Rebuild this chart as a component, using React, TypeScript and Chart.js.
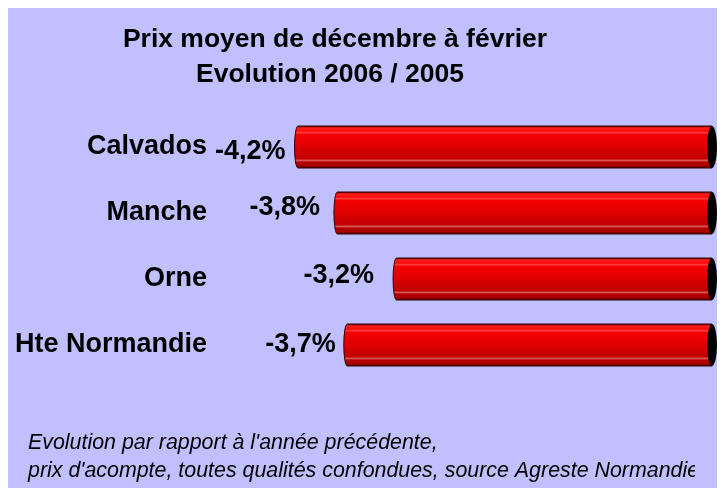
import React, { useEffect, useRef } from 'react';
import { Chart, registerables } from 'chart.js';

Chart.register(...registerables);

const categories = ['Calvados', 'Manche', 'Orne', 'Hte Normandie'];
const values = [-4.2, -3.8, -3.2, -3.7];
const valueLabels = ['-4,2%', '-3,8%', '-3,2%', '-3,7%'];
const titleLines = ['Prix moyen de décembre à février', 'Evolution 2006 / 2005'];
const footnoteLines = [
  "Evolution par rapport à l'année précédente,",
  "prix d'acompte, toutes qualités confondues, source Agreste Normandie",
];

// layout nudges for the value labels (gap left of bar, vertical shift)
const labelGap = [9, 14, 19, 8];
const labelDy = [5, -5, -3, 0];

const W = 717;
const H = 480;
const FONT = "Arial, 'Liberation Sans', sans-serif";

const cylinderPlugin = {
  id: 'cylinder',
  afterDatasetsDraw(chart: any) {
    const ctx: CanvasRenderingContext2D = chart.ctx;
    const meta = chart.getDatasetMeta(0);
    meta.data.forEach((el: any, i: number) => {
      const { x, y, base, height } = el.getProps(['x', 'y', 'base', 'height'], true);
      const left = Math.min(x, base);
      const right = Math.max(x, base);
      const h = height;
      const top = y - h / 2;
      const bot = y + h / 2;
      const rx = 3.5;
      const erx = 5;
      const g = ctx.createLinearGradient(0, top, 0, bot);
      g.addColorStop(0, '#700000');
      g.addColorStop(0.05, '#ff2020');
      g.addColorStop(0.12, '#ff0808');
      g.addColorStop(0.16, '#ff4040');
      g.addColorStop(0.2, '#f40000');
      g.addColorStop(0.45, '#e40000');
      g.addColorStop(0.6, '#d00000');
      g.addColorStop(0.78, '#c20000');
      g.addColorStop(0.82, '#d85a5a');
      g.addColorStop(0.86, '#b40000');
      g.addColorStop(0.95, '#a80000');
      g.addColorStop(1, '#500000');
      ctx.save();
      ctx.beginPath();
      ctx.moveTo(right, top);
      ctx.lineTo(left, top);
      ctx.ellipse(left, y, rx, h / 2, 0, -Math.PI / 2, Math.PI / 2, true);
      ctx.lineTo(right, bot);
      ctx.closePath();
      ctx.fillStyle = g;
      ctx.fill();
      ctx.lineWidth = 1;
      ctx.strokeStyle = '#300000';
      ctx.stroke();
      ctx.beginPath();
      ctx.ellipse(right, y, erx, h / 2, 0, 0, Math.PI * 2);
      ctx.fillStyle = '#000000';
      ctx.fill();
      ctx.restore();

      // value label
      ctx.save();
      ctx.font = `bold 27px ${FONT}`;
      ctx.fillStyle = '#000';
      ctx.textAlign = 'right';
      ctx.textBaseline = 'middle';
      ctx.fillText(valueLabels[i], left - rx - labelGap[i], y + labelDy[i]);
      ctx.restore();

      // category label
      ctx.save();
      ctx.font = `bold 27px ${FONT}`;
      ctx.fillStyle = '#000';
      ctx.textAlign = 'right';
      ctx.textBaseline = 'middle';
      ctx.fillText(categories[i], 199, y);
      ctx.restore();
    });
  },
  afterDraw(chart: any) {
    const ctx: CanvasRenderingContext2D = chart.ctx;
    ctx.save();
    ctx.fillStyle = '#000';
    ctx.textAlign = 'center';
    ctx.textBaseline = 'middle';
    ctx.font = `bold 26.5px ${FONT}`;
    ctx.fillText(titleLines[0], 327, 32);
    ctx.fillText(titleLines[1], 322, 67);
    ctx.restore();

    ctx.save();
    ctx.beginPath();
    ctx.rect(0, 0, 687, H);
    ctx.clip();
    ctx.fillStyle = '#000';
    ctx.textAlign = 'left';
    ctx.textBaseline = 'middle';
    ctx.font = `italic 21.4px ${FONT}`;
    ctx.fillText(footnoteLines[0], 20, 435);
    ctx.fillText(footnoteLines[1], 20, 463);
    ctx.restore();
  },
};

export default function App() {
  const ref = useRef<HTMLCanvasElement>(null);
  useEffect(() => {
    document.body.style.overflow = 'hidden';
    const canvas = ref.current;
    if (!canvas) return;
    const chart = new Chart(canvas, {
      type: 'bar',
      data: {
        labels: categories,
        datasets: [
          {
            data: values,
            backgroundColor: 'rgba(0,0,0,0)',
            borderWidth: 0,
            barThickness: 42,
          },
        ],
      },
      options: {
        indexAxis: 'y',
        responsive: false,
        animation: false,
        devicePixelRatio: 1,
        layout: { padding: { left: 290, right: 13, top: 106, bottom: 110 } },
        scales: {
          x: { min: -4.2, max: 0, display: false },
          y: { display: false },
        },
        plugins: {
          legend: { display: false },
          tooltip: { enabled: false },
          title: { display: false },
        },
      },
      plugins: [cylinderPlugin],
    });
    return () => chart.destroy();
  }, []);
  return (
    <div style={{ width: W, height: H, background: '#C0C0FF' }}>
      <canvas ref={ref} width={W} height={H} style={{ display: 'block' }} />
    </div>
  );
}
